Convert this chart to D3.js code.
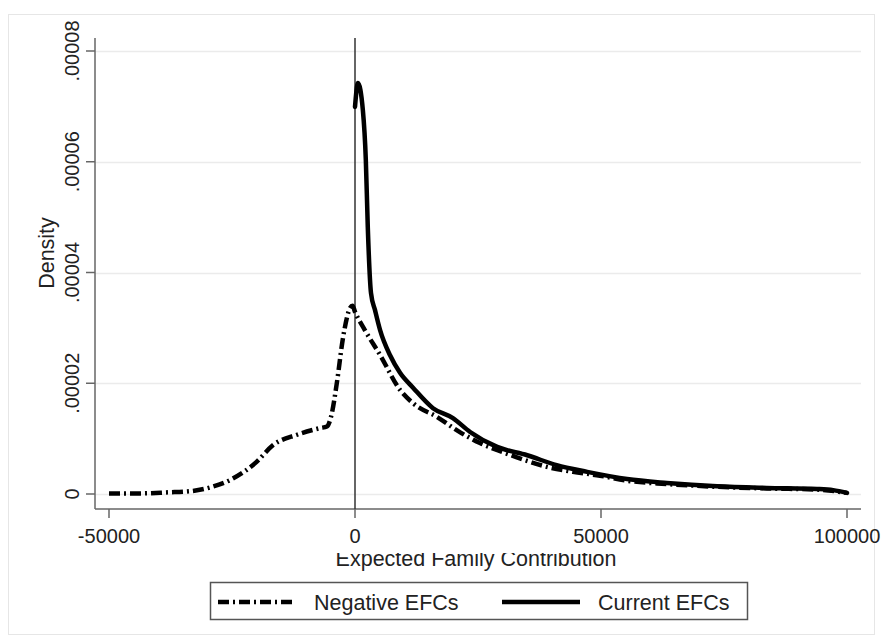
<!DOCTYPE html>
<html>
<head>
<meta charset="utf-8">
<script src="https://cdn.jsdelivr.net/npm/d3@7"></script>
<style>
  html, body { margin: 0; padding: 0; background: #fff; }
  svg { display: block; font-family: "Liberation Sans", Arial, sans-serif; }
</style>
</head>
<body>
<svg id="chart" width="885" height="643"></svg>
<script>
// kernel density of EFC
const negX = [-50000, -44000, -38000, -33500, -29000, -25000, -20000, -16700, -11800, -7100, -5700, -4700, -3700, -2400, -1000, -500,
  0, 2000, 5100, 9150, 11800, 16700, 20900, 25400, 29900, 34600, 39000, 44300, 49800, 55300, 63400, 73600, 83700, 93900, 100000];
const negY = [0.01, 0.01, 0.03, 0.05, 0.13, 0.27, 0.58, 0.88, 1.07, 1.19, 1.22, 1.46, 2.0, 2.84, 3.36, 3.40,
  3.29, 2.96, 2.51, 1.88, 1.64, 1.39, 1.14, 0.92, 0.76, 0.61, 0.49, 0.40, 0.33, 0.24, 0.18, 0.13, 0.10, 0.08, 0.02];

const curX = [0, 600, 1600, 2200, 2600, 3250, 4070, 5100, 7100, 9150, 11800, 15850, 19900, 23400, 28900, 35000, 41000,
  47200, 55300, 63400, 73600, 83700, 93900, 97200, 100000];
const curY = [6.99, 7.42, 6.93, 6.03, 4.82, 3.63, 3.32, 2.96, 2.51, 2.19, 1.92, 1.55, 1.37, 1.12, 0.85, 0.70, 0.52,
  0.40, 0.27, 0.20, 0.14, 0.11, 0.09, 0.07, 0.02];

const xTicks = [-50000, 0, 50000, 100000];
const yTicks = [0, 0.00002, 0.00004, 0.00006, 0.00008];
const yTickLabels = ["0", ".00002", ".00004", ".00006", ".00008"];
const seriesNames = ["Negative EFCs", "Current EFCs"];

const svg = d3.select("#chart");

// graph region frame
svg.append("rect")
  .attr("x", 8.5).attr("y", 14.5)
  .attr("width", 866).attr("height", 620)
  .attr("fill", "#fff")
  .attr("stroke", "#e6e6e6");

const plot = { left: 95, right: 861, top: 38, bottom: 509 };

const x = d3.scaleLinear().domain([-50000, 100000]).range([109, 847]);
const y = d3.scaleLinear().domain([0, 0.00008]).range([494, 51]);

// gridlines
svg.append("g").selectAll("line")
  .data(yTicks)
  .join("line")
  .attr("x1", plot.left).attr("x2", plot.right)
  .attr("y1", d => Math.round(y(d)) + 0.5)
  .attr("y2", d => Math.round(y(d)) + 0.5)
  .attr("stroke", "#ebebeb")
  .attr("stroke-width", 1.5);

// y axis
const yAxis = svg.append("g").attr("transform", `translate(${plot.left},0)`);
yAxis.append("line")
  .attr("x1", 0).attr("x2", 0)
  .attr("y1", plot.top).attr("y2", plot.bottom)
  .attr("stroke", "#666").attr("stroke-width", 1.5);
yAxis.selectAll(".tick")
  .data(yTicks)
  .join("line")
  .attr("x1", -9).attr("x2", 0)
  .attr("y1", d => y(d)).attr("y2", d => y(d))
  .attr("stroke", "#666").attr("stroke-width", 1.5);
yAxis.selectAll("text")
  .data(yTicks)
  .join("text")
  .attr("transform", d => `translate(-23,${y(d)}) rotate(-90)`)
  .attr("text-anchor", "middle")
  .attr("dy", "0.35em")
  .attr("font-size", 20)
  .attr("fill", "#222")
  .text((d, i) => yTickLabels[i]);

// x axis
const xAxis = svg.append("g").attr("transform", `translate(0,${plot.bottom})`);
xAxis.append("line")
  .attr("x1", plot.left).attr("x2", plot.right)
  .attr("y1", 0).attr("y2", 0)
  .attr("stroke", "#666").attr("stroke-width", 1.5);
xAxis.selectAll(".tick")
  .data(xTicks)
  .join("line")
  .attr("x1", d => x(d)).attr("x2", d => x(d))
  .attr("y1", 0).attr("y2", 9)
  .attr("stroke", "#666").attr("stroke-width", 1.5);
xAxis.selectAll("text")
  .data(xTicks)
  .join("text")
  .attr("x", d => x(d))
  .attr("y", 34)
  .attr("text-anchor", "middle")
  .attr("font-size", 20)
  .attr("fill", "#222")
  .text(d => String(d));   // plain hyphen, like Stata

// axis titles
svg.append("text")
  .attr("transform", "translate(46,253) rotate(-90)")
  .attr("text-anchor", "middle")
  .attr("dy", "0.35em")
  .attr("font-size", 21.5)
  .attr("fill", "#222")
  .text("Density");

// the x title is cut off at the top in the original
svg.append("clipPath").attr("id", "xtitle-clip")
  .append("rect").attr("x", 0).attr("y", 553).attr("width", 885).attr("height", 40);
svg.append("text")
  .attr("x", 476).attr("y", 566)
  .attr("text-anchor", "middle")
  .attr("font-size", 21.5)
  .attr("fill", "#222")
  .attr("clip-path", "url(#xtitle-clip)")
  .text("Expected Family Contribution");

// vertical line at zero
svg.append("line")
  .attr("x1", x(0)).attr("x2", x(0))
  .attr("y1", plot.top).attr("y2", plot.bottom)
  .attr("stroke", "#333").attr("stroke-width", 1.5);

const line = d3.line()
  .x(d => x(d[0]))
  .y(d => y(d[1] * 1e-5))
  .curve(d3.curveMonotoneX);

const dashPattern = "11,4,2,4";

svg.append("path")
  .datum(negX.map((v, i) => [v, negY[i]]))
  .attr("d", line)
  .attr("fill", "none")
  .attr("stroke", "#000")
  .attr("stroke-width", 4.5)
  .attr("stroke-dasharray", dashPattern);

svg.append("path")
  .datum(curX.map((v, i) => [v, curY[i]]))
  .attr("d", line)
  .attr("fill", "none")
  .attr("stroke", "#000")
  .attr("stroke-width", 4.5)
  .attr("stroke-linejoin", "round")
  .attr("stroke-linecap", "round");

// legend
const legend = svg.append("g");
legend.append("rect")
  .attr("x", 210.5).attr("y", 582.5)
  .attr("width", 537).attr("height", 37)
  .attr("fill", "#fff")
  .attr("stroke", "#555").attr("stroke-width", 1.5);

const legendItems = [
  { name: seriesNames[0], x0: 218, x1: 296, dash: dashPattern },
  { name: seriesNames[1], x0: 502, x1: 580, dash: null }
];
legendItems.forEach(it => {
  legend.append("line")
    .attr("x1", it.x0).attr("x2", it.x1)
    .attr("y1", 602).attr("y2", 602)
    .attr("stroke", "#000")
    .attr("stroke-width", 4.5)
    .attr("stroke-dasharray", it.dash);
  legend.append("text")
    .attr("x", it.x1 + 18)
    .attr("y", 602)
    .attr("dy", "0.35em")
    .attr("font-size", 21.5)
    .attr("fill", "#222")
    .text(it.name);
});
</script>
</body>
</html>
